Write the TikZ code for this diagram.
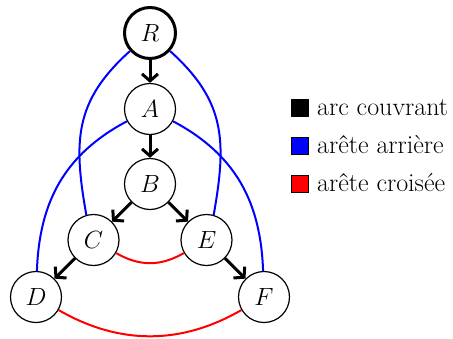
\documentclass[tikz,border=0pt]{standalone}
\usetikzlibrary{arrows.meta}
\begin{document}
\begin{tikzpicture}[x=1pt,y=-1pt,
  font=\fontsize{24}{28}\selectfont,
  vtx/.style={circle,draw,line width=1.2pt,minimum size=51pt,inner sep=0pt},
  root/.style={vtx,line width=3pt},
  tree/.style={line width=3pt,-{Straight Barb[length=7pt,width=16pt]}},
  back/.style={blue,line width=2pt},
  cross/.style={red,line width=2pt},
  key/.style={draw=black,line width=0.8pt,minimum size=17pt,inner sep=0pt},
  keytext/.style={anchor=base west,inner sep=0pt,font=\fontsize{26}{30}\selectfont}]
\useasboundingbox (0,0) rectangle (453,338);
\node[root] (R) at (150,33) {$R$};
\node[vtx] (A) at (150,109) {$A$};
\node[vtx] (B) at (150,184) {$B$};
\node[vtx] (C) at (93.5,240) {$C$};
\node[vtx] (E) at (206.5,240) {$E$};
\node[vtx] (D) at (36,297) {$D$};
\node[vtx] (F) at (264,297) {$F$};
% tree arcs
\draw[tree] (R) -- (A);
\draw[tree] (A) -- (B);
\draw[tree] (B) -- (C);
\draw[tree] (B) -- (E);
\draw[tree] (C) -- (D);
\draw[tree] (E) -- (F);
% back edges
\draw[back] (R.222) .. controls +(222:75pt) and +(100:75pt) .. (C.106);
\draw[back] (R.-42) .. controls +(-42:75pt) and +(80:75pt) .. (E.74);
\draw[back] (A) to[out=208,in=88,distance=70pt] (D);
\draw[back] (A) to[out=-28,in=92,distance=70pt] (F);
% cross edges
\draw[cross] (C) to[out=-30,in=210,distance=27pt] (E);
\draw[cross] (D) to[out=-30,in=210,distance=70pt] (F);
% legend
\node[key,fill=black] (k1) at (300,107.5) {};
\node[key,fill=blue] (k2) at (300,145.5) {};
\node[key,fill=red] (k3) at (300,183.5) {};
\node[keytext] (t1) at (317,115.5) {arc couvrant};
\node[keytext] (t2) at (317,153.5) {arête arrière};
\node[keytext] (t3) at (317,191.5) {arête croisée};
\end{tikzpicture}
\end{document}
